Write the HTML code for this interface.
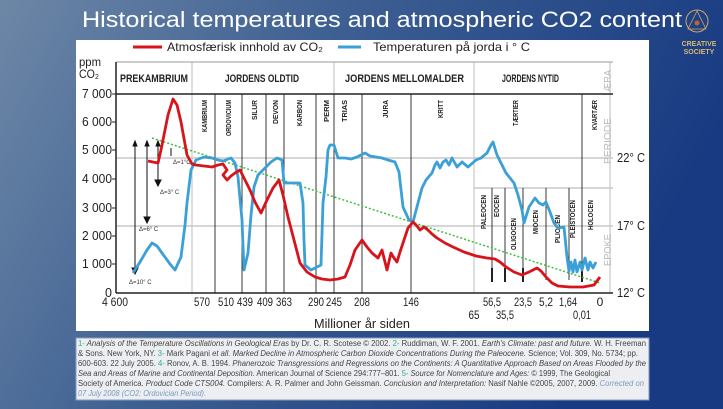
<!DOCTYPE html>
<html><head><meta charset="utf-8"><style>
html,body{margin:0;padding:0;width:723px;height:409px;overflow:hidden}
svg{display:block}
.t{font-family:"Liberation Sans",sans-serif}
</style></head><body>
<svg width="723" height="409" viewBox="0 0 723 409" xmlns="http://www.w3.org/2000/svg">
<defs>
<linearGradient id="bg" x1="0" y1="0" x2="1" y2="0.3">
<stop offset="0" stop-color="#6d87a6"/><stop offset="0.45" stop-color="#3d5f92"/><stop offset="1" stop-color="#173a82"/>
</linearGradient>
</defs>
<rect width="723" height="409" fill="url(#bg)"/>
<text x="82" y="27" fill="#fff" font-family="Liberation Sans, sans-serif" font-size="22" textLength="600" lengthAdjust="spacingAndGlyphs">Historical temperatures and atmospheric CO2 content</text>
<!-- logo -->
<circle cx="697" cy="21" r="11" fill="none" stroke="#c9a76a" stroke-width="1"/>
<path d="M697 11 L688 29 L706 29 Z" fill="none" stroke="#c9a76a" stroke-width="0.8"/>
<circle cx="697" cy="23" r="2.5" fill="#c0632a"/>
<text x="699" y="46" fill="#d8b86e" font-family="Liberation Sans, sans-serif" font-weight="bold" font-size="7" text-anchor="middle">CREATIVE</text>
<text x="699" y="54" fill="#d8b86e" font-family="Liberation Sans, sans-serif" font-weight="bold" font-size="7" text-anchor="middle">SOCIETY</text>

<!-- panel -->
<rect x="76" y="40" width="573" height="291" fill="#fff"/>
<g class="t">
<!-- legend -->
<line x1="133" y1="47" x2="162" y2="47" stroke="#d8141b" stroke-width="3"/>
<text x="167" y="51" font-size="12" fill="#222" textLength="156" lengthAdjust="spacingAndGlyphs">Atmosfærisk innhold av CO₂</text>
<line x1="338" y1="47" x2="361" y2="47" stroke="#3aa0d6" stroke-width="3"/>
<text x="373" y="51" font-size="12" fill="#222" textLength="157" lengthAdjust="spacingAndGlyphs">Temperaturen på jorda i ° C</text>
<text x="79" y="66" font-size="12" fill="#222" textLength="22" lengthAdjust="spacingAndGlyphs">ppm</text>
<text x="79" y="78" font-size="12" fill="#222" textLength="20" lengthAdjust="spacingAndGlyphs">CO₂</text>

<!-- gray guide lines -->
<line x1="116" y1="158" x2="613" y2="158" stroke="#c8c8c8" stroke-width="1.5"/>
<line x1="116" y1="226" x2="613" y2="226" stroke="#c8c8c8" stroke-width="1.5"/>
<line x1="474" y1="188" x2="613" y2="188" stroke="#c8c8c8" stroke-width="1.5"/>
<line x1="192" y1="62" x2="192" y2="293" stroke="#c8c8c8" stroke-width="1.2"/>
<line x1="474" y1="62" x2="474" y2="293" stroke="#c8c8c8" stroke-width="1.2"/>
<line x1="334" y1="62" x2="334" y2="94" stroke="#c8c8c8" stroke-width="1.2"/>
<line x1="610" y1="62" x2="610" y2="293" stroke="#c8c8c8" stroke-width="1.2"/>
<line x1="116" y1="62" x2="613" y2="62" stroke="#999" stroke-width="1"/>
<!-- period dividers -->
<g stroke="#222" stroke-width="0.9">
<line x1="215" y1="94" x2="215" y2="293"/><line x1="242" y1="94" x2="242" y2="293"/>
<line x1="266" y1="94" x2="266" y2="293"/><line x1="284" y1="94" x2="284" y2="293"/>
<line x1="316" y1="94" x2="316" y2="293"/><line x1="334" y1="94" x2="334" y2="293"/>
<line x1="362" y1="94" x2="362" y2="293"/><line x1="411" y1="94" x2="411" y2="293"/>
<line x1="582" y1="94" x2="582" y2="188"/>
<line x1="492" y1="188" x2="492" y2="280"/><line x1="505" y1="188" x2="505" y2="280"/>
<line x1="523" y1="188" x2="523" y2="280"/><line x1="546" y1="188" x2="546" y2="280"/>
<line x1="569" y1="188" x2="569" y2="280"/><line x1="582" y1="188" x2="582" y2="280"/>
</g>
<g stroke="#222" stroke-width="2">
<line x1="492" y1="268" x2="492" y2="282"/><line x1="505" y1="268" x2="505" y2="282"/>
<line x1="523" y1="268" x2="523" y2="282"/><line x1="582" y1="268" x2="582" y2="282"/>
</g>
<!-- axes -->
<line x1="116" y1="94" x2="613" y2="94" stroke="#222" stroke-width="1.5"/>
<line x1="116" y1="293" x2="613" y2="293" stroke="#222" stroke-width="1.5"/>
<line x1="116" y1="62" x2="116" y2="293" stroke="#222" stroke-width="1.5"/>
<g stroke="#222" stroke-width="1"><line x1="112" y1="94" x2="116" y2="94"/><line x1="112" y1="122" x2="116" y2="122"/><line x1="112" y1="150" x2="116" y2="150"/><line x1="112" y1="179" x2="116" y2="179"/><line x1="112" y1="208" x2="116" y2="208"/><line x1="112" y1="236" x2="116" y2="236"/><line x1="112" y1="264" x2="116" y2="264"/></g>
<g font-size="12.5" fill="#222" text-anchor="end">
<text x="112" y="98" textLength="30" lengthAdjust="spacingAndGlyphs">7 000</text><text x="112" y="126" textLength="30" lengthAdjust="spacingAndGlyphs">6 000</text><text x="112" y="154" textLength="30" lengthAdjust="spacingAndGlyphs">5 000</text><text x="112" y="183" textLength="30" lengthAdjust="spacingAndGlyphs">4 000</text><text x="112" y="212" textLength="30" lengthAdjust="spacingAndGlyphs">3 000</text><text x="112" y="240" textLength="30" lengthAdjust="spacingAndGlyphs">2 000</text><text x="112" y="268" textLength="30" lengthAdjust="spacingAndGlyphs">1 000</text><text x="112" y="297">0</text>
</g>
<!-- era labels -->
<g font-size="11" font-weight="bold" fill="#222">
<text x="120" y="82" textLength="68" lengthAdjust="spacingAndGlyphs">PREKAMBRIUM</text>
<text x="225" y="82" textLength="74" lengthAdjust="spacingAndGlyphs">JORDENS OLDTID</text>
<text x="345" y="82" textLength="119" lengthAdjust="spacingAndGlyphs">JORDENS MELLOMALDER</text>
<text x="502" y="82" textLength="57" lengthAdjust="spacingAndGlyphs">JORDENS NYTID</text>
</g>
<!-- right labels -->
<g fill="#bbb" font-size="10">
<text transform="translate(611,92) rotate(-90)" textLength="22" lengthAdjust="spacingAndGlyphs">ÆRA</text>
<text transform="translate(611,164) rotate(-90)" textLength="46" lengthAdjust="spacingAndGlyphs">PERIODE</text>
<text transform="translate(611,266) rotate(-90)" textLength="32" lengthAdjust="spacingAndGlyphs">EPOKE</text>
</g>
<g font-size="12.5" fill="#222"><text x="617" y="162" textLength="28" lengthAdjust="spacingAndGlyphs">22° C</text><text x="617" y="230" textLength="28" lengthAdjust="spacingAndGlyphs">17° C</text><text x="617" y="297" textLength="28" lengthAdjust="spacingAndGlyphs">12° C</text></g>
<!-- period names -->
<g font-size="7" font-weight="bold" fill="#222" text-anchor="end">
<text transform="translate(207,100) rotate(-90)" textLength="32" lengthAdjust="spacingAndGlyphs">KAMBRIUM</text>
<text transform="translate(231,100) rotate(-90)" textLength="36" lengthAdjust="spacingAndGlyphs">ORDOVICIUM</text>
<text transform="translate(257,100) rotate(-90)" textLength="20" lengthAdjust="spacingAndGlyphs">SILUR</text>
<text transform="translate(278,100) rotate(-90)" textLength="24" lengthAdjust="spacingAndGlyphs">DEVON</text>
<text transform="translate(302,100) rotate(-90)" textLength="26" lengthAdjust="spacingAndGlyphs">KARBON</text>
<text transform="translate(329,100) rotate(-90)" textLength="22" lengthAdjust="spacingAndGlyphs">PERM</text>
<text transform="translate(347,100) rotate(-90)" textLength="22" lengthAdjust="spacingAndGlyphs">TRIAS</text>
<text transform="translate(388,100) rotate(-90)" textLength="18" lengthAdjust="spacingAndGlyphs">JURA</text>
<text transform="translate(443,100) rotate(-90)" textLength="18" lengthAdjust="spacingAndGlyphs">KRITT</text>
<text transform="translate(518,100) rotate(-90)" textLength="26" lengthAdjust="spacingAndGlyphs">TÆRTIER</text>
<text transform="translate(597,100) rotate(-90)" textLength="30" lengthAdjust="spacingAndGlyphs">KVARTÆR</text>
<text transform="translate(486,195) rotate(-90)" textLength="34" lengthAdjust="spacingAndGlyphs">PALEOCEN</text>
<text transform="translate(499,195) rotate(-90)" textLength="22" lengthAdjust="spacingAndGlyphs">EOCEN</text>
<text transform="translate(516,218) rotate(-90)" textLength="32" lengthAdjust="spacingAndGlyphs">OLIGOCEN</text>
<text transform="translate(538,210) rotate(-90)" textLength="24" lengthAdjust="spacingAndGlyphs">MIOCEN</text>
<text transform="translate(560,215) rotate(-90)" textLength="28" lengthAdjust="spacingAndGlyphs">PLIOCEN</text>
<text transform="translate(575,200) rotate(-90)" textLength="38" lengthAdjust="spacingAndGlyphs">PLEISTOCEN</text>
<text transform="translate(593,200) rotate(-90)" textLength="30" lengthAdjust="spacingAndGlyphs">HOLOCEN</text>
</g>
<!-- x labels -->
<g font-size="12" fill="#222" text-anchor="middle">
<text x="115" y="306" textLength="26" lengthAdjust="spacingAndGlyphs">4 600</text>
<text x="202" y="306" textLength="16" lengthAdjust="spacingAndGlyphs">570</text>
<text x="226" y="306" textLength="16" lengthAdjust="spacingAndGlyphs">510</text>
<text x="245" y="306" textLength="16" lengthAdjust="spacingAndGlyphs">439</text>
<text x="265" y="306" textLength="16" lengthAdjust="spacingAndGlyphs">409</text>
<text x="284" y="306" textLength="16" lengthAdjust="spacingAndGlyphs">363</text>
<text x="316" y="306" textLength="16" lengthAdjust="spacingAndGlyphs">290</text>
<text x="334" y="306" textLength="16" lengthAdjust="spacingAndGlyphs">245</text>
<text x="362" y="306" textLength="16" lengthAdjust="spacingAndGlyphs">208</text>
<text x="411" y="306" textLength="16" lengthAdjust="spacingAndGlyphs">146</text>
<text x="492" y="306" textLength="18" lengthAdjust="spacingAndGlyphs">56,5</text>
<text x="523" y="306" textLength="18" lengthAdjust="spacingAndGlyphs">23,5</text>
<text x="546" y="306" textLength="14" lengthAdjust="spacingAndGlyphs">5,2</text>
<text x="568" y="306" textLength="18" lengthAdjust="spacingAndGlyphs">1,64</text>
<text x="600" y="306">0</text>
<text x="474" y="319" textLength="11" lengthAdjust="spacingAndGlyphs">65</text>
<text x="505" y="319" textLength="18" lengthAdjust="spacingAndGlyphs">35,5</text>
<text x="582" y="319" textLength="18" lengthAdjust="spacingAndGlyphs">0,01</text>
<text x="362" y="328" font-size="13" textLength="96" lengthAdjust="spacingAndGlyphs">Millioner år siden</text>
</g>
<!-- arrows -->
<g stroke="#111" stroke-width="1" fill="#111">
<line x1="135" y1="143" x2="135" y2="270"/><path d="M132 268 L135 274 L138 268Z"/>
<line x1="147" y1="143" x2="147" y2="219"/><path d="M144 217 L147 223 L150 217Z"/>
<line x1="158" y1="143" x2="158" y2="182"/><path d="M155 180 L158 186 L161 180Z"/>
<path d="M133 146 L135 141 L137 146Z M145 146 L147 141 L149 146Z M156 146 L158 141 L160 146Z"/>
<line x1="171" y1="148" x2="171" y2="156"/>
</g>
<g font-size="6" fill="#333"><text x="173" y="164">Δ=1°C</text><text x="160" y="194">Δ=3° C</text><text x="139" y="231">Δ=6° C</text><text x="129" y="284">Δ=10° C</text></g>
<!-- trend -->
<line x1="152" y1="138" x2="600" y2="283" stroke="#3fbf3f" stroke-width="1.5" stroke-dasharray="2,2"/>
<!-- temperature -->
<polyline fill="none" stroke="#3aa0d6" stroke-width="2.8" stroke-linejoin="round" points="133,273 140,262 147,250 152,243 157,246 162,253 170,264 175,270 181,257 185,225 187,203 191,170 196,160 204,157 212,158 218,160 223,161 231,158 235,163 238,177 242,220 244,270 248,253 251,215 254,187 258,175 263,170 271,162 277,158 282,160 284,183 300,183 303,203 304,240 305,265 311,270 321,265 323,203 326,177 328,150 330,145 334,145 338,158 345,158 351,159 357,157 365,153 370,156 376,157 382,158 388,160 395,162 399,172 403,207 409,220 413,222 418,203 422,188 426,180 432,173 435,165 437,162 440,168 443,162 446,160 449,165 452,158 457,167 462,162 468,167 476,160 481,158 487,153 491,145 493,142 497,155 502,165 506,173 514,183 518,195 522,210 524,223 529,207 535,198 539,203 543,205 546,202 550,212 554,223 558,228 564,227 567,257 569,271 571,262 573,272 575,260 577,272 580,262 582,270 585,258 588,270 590,262 593,268 596,262"/>
<!-- CO2 -->
<polyline fill="none" stroke="#d8141b" stroke-width="2.8" stroke-linejoin="round" points="148,161 158,163 161,150 164,135 168,115 173,99 177,105 181,122 187,155 192,164 196,165 204,166 212,167 218,165 223,164 227,170 223,175 227,180 231,176 235,173 240,170 245,180 250,190 255,202 261,213 267,200 273,188 279,180 283,195 288,217 294,240 300,263 307,272 315,277 322,279 330,280 338,279 345,277 350,265 355,250 362,240 367,247 372,253 378,258 382,250 385,262 387,270 391,253 394,258 397,262 400,252 403,243 408,228 413,222 417,226 420,230 424,227 428,230 432,234 437,238 445,243 453,247 464,252 476,256 487,258 495,259 500,262 506,267 514,272 522,275 529,272 537,268 541,271 546,277 552,283 558,286 570,287 583,287 594,285 600,277"/>
</g>
<!-- footnote -->
<rect x="76" y="338" width="573" height="62" fill="#eceef1" stroke="#8a9ab8" stroke-width="1"/>
<g font-family="Liberation Sans, sans-serif" font-size="8" fill="#444">
<text x="78" y="346" textLength="568" lengthAdjust="spacingAndGlyphs"><tspan fill="#3a9">1-</tspan><tspan font-style="italic"> Analysis of the Temperature Oscillations in Geological Eras</tspan> by Dr. C. R. Scotese © 2002. <tspan fill="#3a9">2-</tspan> Ruddiman, W. F. 2001. <tspan font-style="italic">Earth's Climate: past and future.</tspan> W. H. Freeman</text>
<text x="78" y="356" textLength="560" lengthAdjust="spacingAndGlyphs">&amp; Sons. New York, NY. <tspan fill="#3a9">3-</tspan> Mark Pagani <tspan font-style="italic">et all. Marked Decline in Atmospheric Carbon Dioxide Concentrations During the Paleocene.</tspan> Science; Vol. 309, No. 5734; pp.</text>
<text x="78" y="366" textLength="568" lengthAdjust="spacingAndGlyphs">600-603. 22 July 2005. <tspan fill="#3a9">4-</tspan> Ronov, A. B. 1994. <tspan font-style="italic">Phanerozoic Transgressions and Regressions on the Continents: A Quantitative Approach Based on Areas Flooded by the</tspan></text>
<text x="78" y="376" textLength="532" lengthAdjust="spacingAndGlyphs"><tspan font-style="italic">Sea and Areas of Marine and Continental Deposition.</tspan> American Journal of Science 294:777–801. <tspan fill="#3a9">5-</tspan><tspan font-style="italic"> Source for Nomenclature and Ages:</tspan> © 1999, The Geological</text>
<text x="78" y="386" textLength="566" lengthAdjust="spacingAndGlyphs">Society of America. <tspan font-style="italic">Product Code CTS004.</tspan> Compilers: A. R. Palmer and John Geissman. <tspan font-style="italic">Conclusion and Interpretation:</tspan> Nasif Nahle ©2005, 2007, 2009. <tspan fill="#7a9cc0" font-style="italic">Corrected on</tspan></text>
<text x="78" y="396" fill="#7a9cc0" font-style="italic" textLength="128" lengthAdjust="spacingAndGlyphs">07 July 2008 (CO2: Ordovician Period).</text>
</g>
</svg>
</body></html>
